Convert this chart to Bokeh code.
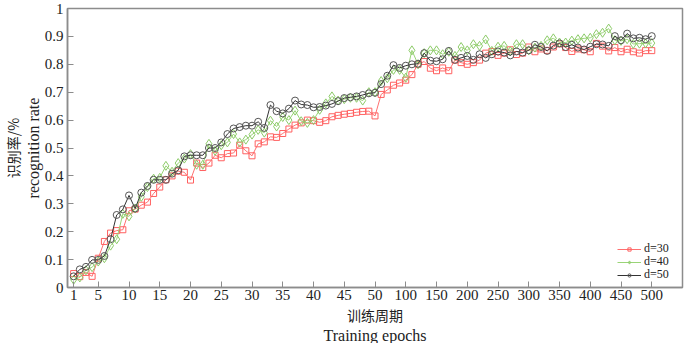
from bokeh.plotting import figure
from bokeh.models import FixedTicker, Title, Range1d, Legend, LegendItem
from bokeh.embed import file_html
from bokeh.resources import INLINE

# ---------------- data ----------------
epochs = list(range(1, 51)) + list(range(60, 501, 10))

d30 = [0.050, 0.039, 0.054, 0.040, 0.105, 0.165, 0.195, 0.204, 0.207, 0.275,
       0.281, 0.295, 0.306, 0.337, 0.360, 0.386, 0.400, 0.417, 0.413, 0.385,
       0.446, 0.430, 0.446, 0.474, 0.465, 0.480, 0.482, 0.510, 0.490, 0.472,
       0.515, 0.522, 0.540, 0.538, 0.552, 0.568, 0.582, 0.590, 0.600, 0.598,
       0.592, 0.598, 0.612, 0.617, 0.621, 0.624, 0.628, 0.631, 0.632, 0.615,
       0.692, 0.708, 0.725, 0.733, 0.743, 0.763, 0.800, 0.810, 0.786, 0.777,
       0.787, 0.777, 0.815, 0.806, 0.800, 0.806, 0.815, 0.840, 0.846, 0.832,
       0.840, 0.852, 0.835, 0.840, 0.862, 0.845, 0.855, 0.850, 0.862, 0.873,
       0.860, 0.846, 0.855, 0.852, 0.845, 0.875, 0.865, 0.848, 0.860, 0.845,
       0.854, 0.845, 0.840, 0.849, 0.849]

d40 = [0.028, 0.036, 0.062, 0.073, 0.093, 0.105, 0.150, 0.173, 0.264, 0.255,
       0.283, 0.325, 0.360, 0.390, 0.393, 0.436, 0.415, 0.446, 0.462, 0.478,
       0.440, 0.440, 0.515, 0.490, 0.510, 0.520, 0.550, 0.520, 0.530, 0.548,
       0.565, 0.555, 0.598, 0.577, 0.611, 0.600, 0.634, 0.596, 0.590, 0.600,
       0.637, 0.660, 0.685, 0.670, 0.675, 0.680, 0.680, 0.670, 0.700, 0.700,
       0.740, 0.750, 0.780, 0.780, 0.752, 0.850, 0.800, 0.840, 0.850, 0.850,
       0.836, 0.845, 0.830, 0.862, 0.850, 0.872, 0.866, 0.889, 0.848, 0.863,
       0.866, 0.847, 0.872, 0.872, 0.850, 0.860, 0.866, 0.886, 0.893, 0.878,
       0.878, 0.885, 0.890, 0.893, 0.895, 0.908, 0.913, 0.928, 0.886, 0.884,
       0.890, 0.873, 0.874, 0.875, 0.876]

d50 = [0.040, 0.065, 0.074, 0.099, 0.099, 0.113, 0.173, 0.260, 0.280, 0.330,
       0.283, 0.340, 0.364, 0.386, 0.386, 0.386, 0.408, 0.420, 0.470, 0.474,
       0.474, 0.474, 0.500, 0.500, 0.520, 0.550, 0.570, 0.575, 0.580, 0.580,
       0.594, 0.572, 0.654, 0.632, 0.624, 0.641, 0.670, 0.656, 0.654, 0.646,
       0.647, 0.652, 0.658, 0.668, 0.679, 0.682, 0.685, 0.690, 0.696, 0.698,
       0.729, 0.759, 0.797, 0.787, 0.795, 0.800, 0.802, 0.840, 0.813, 0.811,
       0.818, 0.848, 0.816, 0.823, 0.830, 0.816, 0.836, 0.823, 0.836, 0.846,
       0.842, 0.832, 0.846, 0.842, 0.850, 0.870, 0.862, 0.848, 0.867, 0.875,
       0.862, 0.870, 0.860, 0.853, 0.863, 0.872, 0.871, 0.866, 0.901, 0.886,
       0.910, 0.893, 0.895, 0.890, 0.901]

tick_epochs = [1, 5, 10, 15, 20, 25, 30, 35, 40, 45, 50,
               100, 150, 200, 250, 300, 350, 400, 450, 500]
y_ticks = [0, 0.1, 0.2, 0.3, 0.4, 0.5, 0.6, 0.7, 0.8, 0.9, 1]
y_tick_labels = ["0", "0.1", "0.2", "0.3", "0.4", "0.5", "0.6", "0.7", "0.8", "0.9", "1"]

series_labels = ["d=30", "d=40", "d=50"]


# piecewise x scale: 1 unit per epoch up to 50, 1 unit per 10 epochs after
def xpos(e):
    return e if e <= 50 else 50 + (e - 50) / 10.0


xs = [xpos(e) for e in epochs]
x_ticks = [xpos(e) for e in tick_epochs]

SERIF = "Liberation Serif"
CJK = "Noto Sans CJK SC"
AX_GRAY = "#8c8c8c"
TXT = "#222222"

p = figure(width=684, height=343, output_backend="svg", toolbar_location=None,
           x_range=Range1d(0, 100), y_range=Range1d(0, 1),
           min_border_left=56, min_border_right=2, min_border_top=8, min_border_bottom=4)

p.xgrid.visible = False
p.ygrid.visible = False
p.outline_line_color = AX_GRAY
p.outline_line_width = 1.5
p.background_fill_color = "white"
p.border_fill_color = "white"

for ax in (p.xaxis[0], p.yaxis[0]):
    ax.axis_line_color = AX_GRAY
    ax.axis_line_width = 1.5
    ax.major_tick_line_color = AX_GRAY
    ax.major_tick_in = 6
    ax.major_tick_out = 0
    ax.minor_tick_line_color = None
    ax.major_label_text_font = SERIF
    ax.major_label_text_font_size = "15px"
    ax.major_label_text_color = TXT

p.xaxis[0].ticker = FixedTicker(ticks=x_ticks)
p.xaxis[0].major_label_overrides = {xv: str(e) for xv, e in zip(x_ticks, tick_epochs)}
p.xaxis[0].major_label_standoff = 2
p.yaxis[0].ticker = FixedTicker(ticks=y_ticks)
p.yaxis[0].major_label_overrides = {yv: lab for yv, lab in zip(y_ticks, y_tick_labels)}
p.yaxis[0].major_label_standoff = 4

# data series
styles = [
    (d30, "#ff7070", "#ff6060", "square", 6),
    (d40, "#9ad477", "#8ccb68", "diamond", 9),
    (d50, "#333333", "#555555", "circle", 7),
]
legend_rows_y = [31, 18, 5]   # legend row offsets (px above frame bottom)
for (vals, lcol, mcol, mk, sz), lab, ly in zip(styles, series_labels, legend_rows_y):
    r_line = p.line(xs, vals, line_color=lcol, line_width=1)
    r_pts = p.scatter(xs, vals, marker=mk, size=sz, line_color=mcol,
                      fill_color=None, line_width=1)
    lg = Legend(items=[LegendItem(label=lab, renderers=[r_line, r_pts])],
                location=(550, ly))
    lg.background_fill_alpha = 0
    lg.border_line_alpha = 0
    lg.label_text_font = SERIF
    lg.label_text_font_size = "12px"
    lg.label_text_color = TXT
    lg.glyph_width = 24
    lg.glyph_height = 8
    lg.label_height = 8
    lg.spacing = 0
    lg.padding = 0
    lg.margin = 0
    lg.label_standoff = 3
    p.add_layout(lg, "center")

# axis titles
p.add_layout(Title(text="训练周期", text_font=CJK, text_font_size="14px",
                   text_font_style="normal", align="center", text_color=TXT,
                   standoff=0), "below")
p.add_layout(Title(text="Training epochs", text_font=SERIF, text_font_size="16px",
                   text_font_style="normal", align="center", text_color=TXT,
                   standoff=0), "below")
p.add_layout(Title(text="recognition rate", text_font=SERIF, text_font_size="16px",
                   text_font_style="normal", align="center", text_color=TXT,
                   standoff=0), "left")
p.add_layout(Title(text="识别率/%", text_font=CJK, text_font_size="14px",
                   text_font_style="normal", align="center", text_color=TXT,
                   standoff=0), "left")

open("out.html", "w").write(file_html(p, INLINE))
